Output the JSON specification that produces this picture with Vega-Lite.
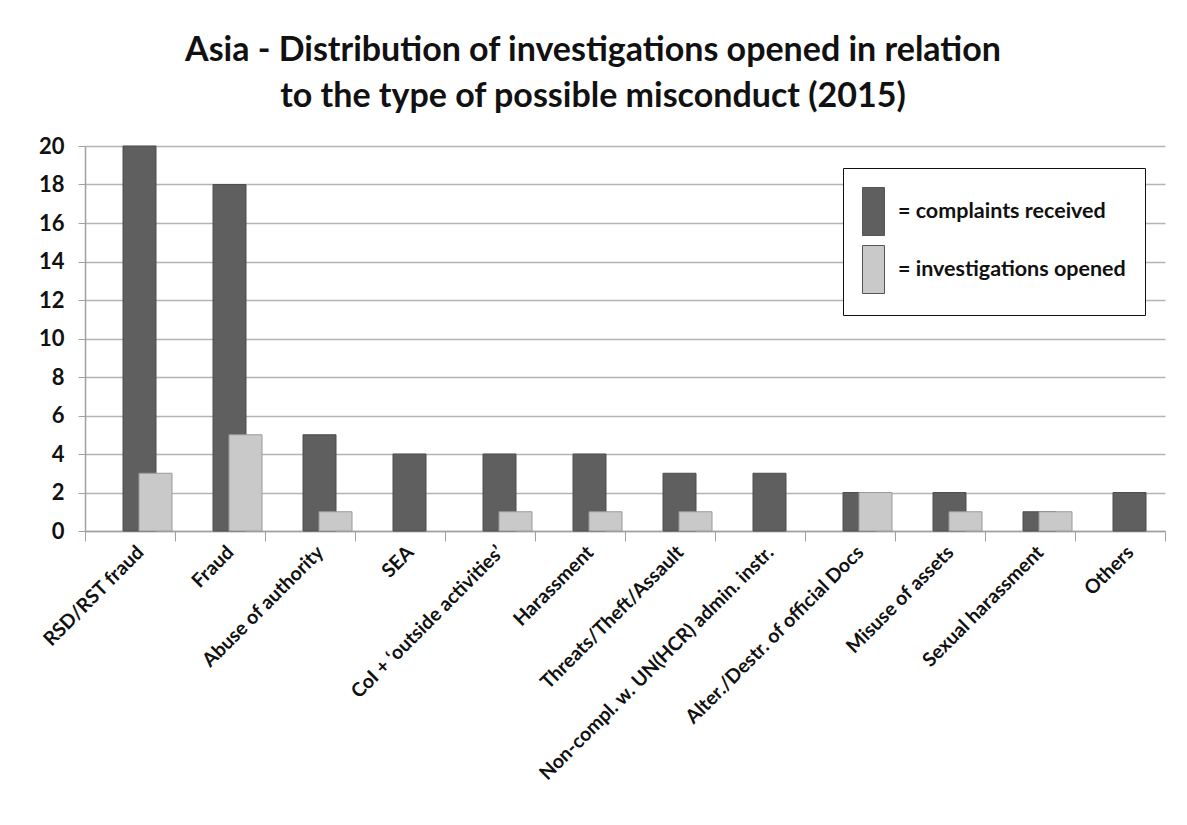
{
  "$schema": "https://vega.github.io/schema/vega-lite/v6.json",
  "width": 1080,
  "height": 385,
  "autosize": {"type": "none"},
  "padding": {"left": 85, "top": 146, "right": 22, "bottom": 294},
  "background": "white",
  "title": {
    "text": ["Asia - Distribution of investigations opened in relation", "to the type of possible misconduct (2015)"],
    "font": "Lato",
    "fontSize": 34,
    "fontWeight": "bold",
    "color": "#111111",
    "lineHeight": 46,
    "anchor": "middle",
    "dx": -32,
    "offset": 21
  },
  "data": {
    "values": [
      {"category": "RSD/RST fraud", "series": "complaints received", "value": 20},
      {"category": "RSD/RST fraud", "series": "investigations opened", "value": 3},
      {"category": "Fraud", "series": "complaints received", "value": 18},
      {"category": "Fraud", "series": "investigations opened", "value": 5},
      {"category": "Abuse of authority", "series": "complaints received", "value": 5},
      {"category": "Abuse of authority", "series": "investigations opened", "value": 1},
      {"category": "SEA", "series": "complaints received", "value": 4},
      {"category": "SEA", "series": "investigations opened", "value": 0},
      {"category": "CoI + ‘outside activities’", "series": "complaints received", "value": 4},
      {"category": "CoI + ‘outside activities’", "series": "investigations opened", "value": 1},
      {"category": "Harassment", "series": "complaints received", "value": 4},
      {"category": "Harassment", "series": "investigations opened", "value": 1},
      {"category": "Threats/Theft/Assault", "series": "complaints received", "value": 3},
      {"category": "Threats/Theft/Assault", "series": "investigations opened", "value": 1},
      {"category": "Non-compl. w. UN(HCR) admin. instr.", "series": "complaints received", "value": 3},
      {"category": "Non-compl. w. UN(HCR) admin. instr.", "series": "investigations opened", "value": 0},
      {"category": "Alter./Destr. of official Docs", "series": "complaints received", "value": 2},
      {"category": "Alter./Destr. of official Docs", "series": "investigations opened", "value": 2},
      {"category": "Misuse of assets", "series": "complaints received", "value": 2},
      {"category": "Misuse of assets", "series": "investigations opened", "value": 1},
      {"category": "Sexual harassment", "series": "complaints received", "value": 1},
      {"category": "Sexual harassment", "series": "investigations opened", "value": 1},
      {"category": "Others", "series": "complaints received", "value": 2},
      {"category": "Others", "series": "investigations opened", "value": 0}
    ]
  },
  "encoding": {
    "x": {
      "field": "category",
      "type": "nominal",
      "sort": null,
      "scale": {"paddingInner": 0, "paddingOuter": 0},
      "axis": {
        "title": null,
        "labelAngle": -45,
        "labelAlign": "right",
        "labelBaseline": "middle",
        "labelFont": "Lato",
        "labelFontSize": 19.5,
        "labelFontWeight": "bold",
        "labelColor": "#111111",
        "labelPadding": 8,
        "labelOffset": 10,
        "labelLimit": 500,
        "labelOverlap": false,
        "tickBand": "extent",
        "tickSize": 10,
        "tickColor": "#a0a0a0",
        "domainColor": "#a0a0a0",
        "domainWidth": 1.5,
        "grid": false
      }
    },
    "y": {
      "field": "value",
      "type": "quantitative",
      "scale": {"domain": [0, 20], "nice": false},
      "axis": {
        "title": null,
        "values": [0, 2, 4, 6, 8, 10, 12, 14, 16, 18, 20],
        "labelFont": "Lato",
        "labelFontSize": 22,
        "labelFontWeight": "bold",
        "labelColor": "#111111",
        "labelPadding": 14,
        "ticks": true,
        "tickSize": 7,
        "tickColor": "#a0a0a0",
        "domainColor": "#a0a0a0",
        "domainWidth": 1.5,
        "grid": true,
        "gridColor": "#b4b4b4",
        "gridWidth": 1.3
      }
    },
    "color": {
      "field": "series",
      "type": "nominal",
      "scale": {"domain": ["complaints received", "investigations opened"], "range": ["#5f5f5f", "#c9c9c9"]},
      "legend": {
        "title": null,
        "orient": "none",
        "legendX": 758,
        "legendY": 22,
        "direction": "vertical",
        "fillColor": "white",
        "strokeColor": "#111111",
        "padding": 19,
        "rowPadding": 5,
        "symbolType": "M-1,-1L-0.083,-1L-0.083,1L-1,1Z",
        "symbolSize": 2304,
        "symbolOpacity": 1,
        "symbolStrokeColor": "#555555",
        "symbolStrokeWidth": 1,
        "labelExpr": "'= ' + datum.label",
        "labelFont": "Lato",
        "labelFontSize": 21.5,
        "labelFontWeight": "bold",
        "labelColor": "#111111",
        "labelOffset": -13,
        "labelLimit": 400
      }
    }
  },
  "layer": [
    {
      "transform": [{"filter": "datum.series === 'complaints received'"}],
      "mark": {"type": "bar", "width": 33, "xOffset": 9.5, "stroke": "#4e4e4e", "strokeWidth": 1, "opacity": 1}
    },
    {
      "transform": [{"filter": "datum.series === 'investigations opened' && datum.value > 0"}],
      "mark": {"type": "bar", "width": 33, "xOffset": 25.5, "stroke": "#9a9a9a", "strokeWidth": 1, "opacity": 1}
    }
  ],
  "config": {
    "view": {"stroke": null}
  }
}
